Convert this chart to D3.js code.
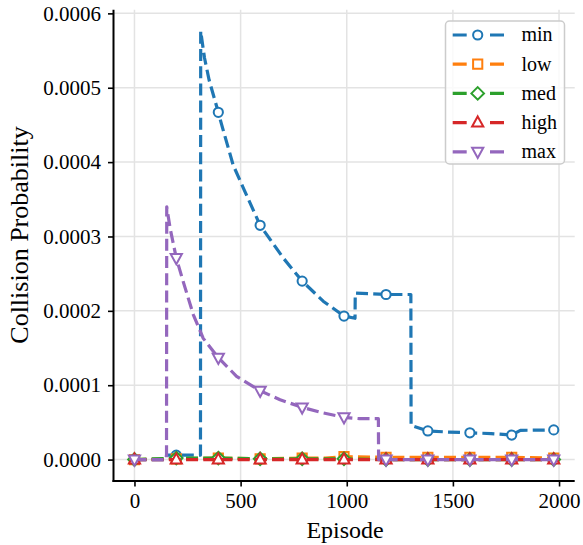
<!DOCTYPE html>
<html>
<head>
<meta charset="utf-8">
<script src="https://cdn.jsdelivr.net/npm/d3@7"></script>
<style>
  html, body { margin: 0; padding: 0; background: #ffffff; }
  svg { display: block; }
</style>
</head>
<body>
<svg id="chart" width="583" height="545"></svg>
<script>
// Collision probability per episode for each setting (episode, value)
const seriesNames = ["min", "low", "med", "high", "max"];
const seriesColors = ["#1f77b4", "#ff7f0e", "#2ca02c", "#d62728", "#9467bd"];
const seriesMarkers = ["circle", "square", "diamond", "triangleUp", "triangleDown"];

// Episodes at which markers are placed
const markerEpisodes = [0, 197, 395, 592, 790, 987, 1185, 1382, 1580, 1777, 1975];

const minEpisodes = [0, 150, 151, 197, 311, 312, 330, 352, 395, 411, 465, 513, 592, 701, 790, 889, 987, 1039, 1040, 1185, 1302, 1303, 1382, 1480, 1580, 1680, 1777, 1818, 1975];
const minValues = [0, 0, 0.000006, 0.000006, 0.000006, 0.000576, 0.000540, 0.000510, 0.000467, 0.000450, 0.000396, 0.000365, 0.000315, 0.000271, 0.000240, 0.000213, 0.000193, 0.000190, 0.000224, 0.000222, 0.000222, 0.000046, 0.0000385, 0.000037, 0.000036, 0.000035, 0.000033, 0.0000393, 0.0000399];

const lowEpisodes = [0, 197, 395, 592, 790, 900, 987, 1185, 1382, 1580, 1777, 1975];
const lowValues = [0, 0.000001, 0.000002, 0.000001, 0.000002, 0.000002, 0.000004, 0.000003, 0.000003, 0.000003, 0.000003, 0.000002];

const medEpisodes = [0, 197, 395, 592, 790, 987, 1185, 1382, 1580, 1777, 1975];
const medValues = [0, 0.000002, 0.000002, 0.000001, 0.000001, 0.000001, 0, 0, 0, 0, 0];

const highEpisodes = [0, 197, 395, 592, 790, 987, 1185, 1382, 1580, 1777, 1975];
const highValues = [0, 0, 0, 0, 0, 0, 0, 0, 0, 0, 0];

const maxEpisodes = [0, 151, 152, 168, 197, 230, 277, 324, 395, 481, 592, 686, 790, 890, 987, 1060, 1149, 1150, 1185, 1382, 1580, 1777, 1975];
const maxValues = [0, 0, 0.000340, 0.000311, 0.000271, 0.000239, 0.000195, 0.000163, 0.000137, 0.000112, 0.0000926, 0.0000805, 0.0000702, 0.0000627, 0.0000568, 0.000055, 0.000055, 0, 0, 0, 0, 0, 0];

const xTicks = [0, 500, 1000, 1500, 2000];
const yTicks = [0, 0.0001, 0.0002, 0.0003, 0.0004, 0.0005, 0.0006];
const xLabel = "Episode";
const yLabel = "Collision Probability";

const FONT = "Liberation Serif, Times New Roman, serif";

const episodeLists = [minEpisodes, lowEpisodes, medEpisodes, highEpisodes, maxEpisodes];
const valueLists = [minValues, lowValues, medValues, highValues, maxValues];
const series = seriesNames.map((name, i) => ({
  name,
  color: seriesColors[i],
  marker: seriesMarkers[i],
  points: episodeLists[i].map((e, j) => ({ x: e, y: valueLists[i][j] }))
}));

// Layout
const W = 583, H = 545;
const margin = { left: 113.5, right: 8.3, top: 9.8, bottom: 64 };
const svg = d3.select("#chart");

// Data extent with 5% padding on each side
const allX = series.flatMap(s => s.points.map(p => p.x));
const allY = series.flatMap(s => s.points.map(p => p.y));
const [x0, x1] = d3.extent(allX);
const [y0, y1] = d3.extent(allY);
const padX = (x1 - x0) * 0.05, padY = (y1 - y0) * 0.05;

const x = d3.scaleLinear().domain([x0 - padX, x1 + padX]).range([margin.left, W - margin.right]);
const y = d3.scaleLinear().domain([y0 - padY, y1 + padY]).range([H - margin.bottom, margin.top]);

// Grid
const grid = svg.append("g").attr("stroke", "#e3e3e3").attr("stroke-width", 1.5);
grid.selectAll(".gx").data(xTicks).join("line")
  .attr("x1", d => x(d)).attr("x2", d => x(d))
  .attr("y1", y.range()[0]).attr("y2", y.range()[1]);
grid.selectAll(".gy").data(yTicks).join("line")
  .attr("x1", x.range()[0]).attr("x2", x.range()[1])
  .attr("y1", d => y(d)).attr("y2", d => y(d));

// Marker shapes
function markerPath(type) {
  switch (type) {
    case "circle": return d3.symbol().type(d3.symbolCircle).size(Math.PI * 4.6 * 4.6)();
    case "square": return "M-4.6,-4.6H4.6V4.6H-4.6Z";
    case "diamond": return "M0,-6.3L6.3,0L0,6.3L-6.3,0Z";
    case "triangleUp": return "M0,-6.2L5.6,4L-5.6,4Z";
    case "triangleDown": return "M0,6.2L5.6,-4L-5.6,-4Z";
  }
}

const line = d3.line().x(d => x(d.x)).y(d => y(d.y));
const plot = svg.append("g");
series.forEach(s => {
  const g = plot.append("g");
  g.append("path")
    .datum(s.points)
    .attr("d", line)
    .attr("fill", "none")
    .attr("stroke", s.color)
    .attr("stroke-width", 3.2)
    .attr("stroke-dasharray", "12,5.2")
    .attr("stroke-linejoin", "round");
  const marks = s.points.filter(p => markerEpisodes.includes(p.x));
  g.selectAll("path.m").data(marks).join("path")
    .attr("class", "m")
    .attr("d", markerPath(s.marker))
    .attr("transform", d => `translate(${x(d.x)},${y(d.y)})`)
    .attr("fill", "#ffffff")
    .attr("stroke", s.color)
    .attr("stroke-width", 2);
});

// Axes
const xAxis = svg.append("g")
  .attr("transform", `translate(0,${y.range()[0]})`)
  .call(d3.axisBottom(x).tickValues(xTicks).tickSize(5.5).tickPadding(7).tickFormat(d3.format("d")));
const yAxis = svg.append("g")
  .attr("transform", `translate(${x.range()[0]},0)`)
  .call(d3.axisLeft(y).tickValues(yTicks).tickSize(5.5).tickPadding(7).tickFormat(d3.format(".4f")));

[xAxis, yAxis].forEach(a => {
  a.select(".domain").remove();
  a.attr("font-family", FONT).attr("font-size", 21);
  a.selectAll(".tick line").attr("stroke", "#000").attr("stroke-width", 1.6);
  a.selectAll(".tick text").attr("fill", "#000");
});

// Spines (left and bottom)
svg.append("line")
  .attr("x1", x.range()[0]).attr("x2", x.range()[0])
  .attr("y1", y.range()[1]).attr("y2", y.range()[0] + 1)
  .attr("stroke", "#000").attr("stroke-width", 2);
svg.append("line")
  .attr("x1", x.range()[0] - 1).attr("x2", x.range()[1])
  .attr("y1", y.range()[0]).attr("y2", y.range()[0])
  .attr("stroke", "#000").attr("stroke-width", 2);

// Axis labels
svg.append("text")
  .attr("x", (x.range()[0] + x.range()[1]) / 2 + 1)
  .attr("y", 538)
  .attr("text-anchor", "middle")
  .attr("font-family", FONT)
  .attr("font-size", 24)
  .text(xLabel);
svg.append("text")
  .attr("transform", "translate(28,235) rotate(-90)")
  .attr("text-anchor", "middle")
  .attr("font-family", FONT)
  .attr("font-size", 26)
  .text(yLabel);

// Legend
const legend = svg.append("g").attr("transform", "translate(445.5,21)");
legend.append("rect")
  .attr("width", 119).attr("height", 143)
  .attr("rx", 4).attr("ry", 4)
  .attr("fill", "#ffffff").attr("fill-opacity", 0.8)
  .attr("stroke", "#cccccc").attr("stroke-width", 1.5);
series.forEach((s, i) => {
  const row = legend.append("g").attr("transform", `translate(0,${14 + i * 29.2})`);
  row.append("line")
    .attr("x1", 7.2).attr("x2", 58.5)
    .attr("y1", 0).attr("y2", 0)
    .attr("stroke", s.color).attr("stroke-width", 3.2)
    .attr("stroke-dasharray", "14,23.3");
  row.append("path")
    .attr("d", markerPath(s.marker))
    .attr("transform", "translate(32.2,0)")
    .attr("fill", "#ffffff")
    .attr("stroke", s.color)
    .attr("stroke-width", 2);
  row.append("text")
    .attr("x", 76).attr("y", 0)
    .attr("dy", "0.32em")
    .attr("font-family", FONT)
    .attr("font-size", 20)
    .text(s.name);
});
</script>
</body>
</html>
